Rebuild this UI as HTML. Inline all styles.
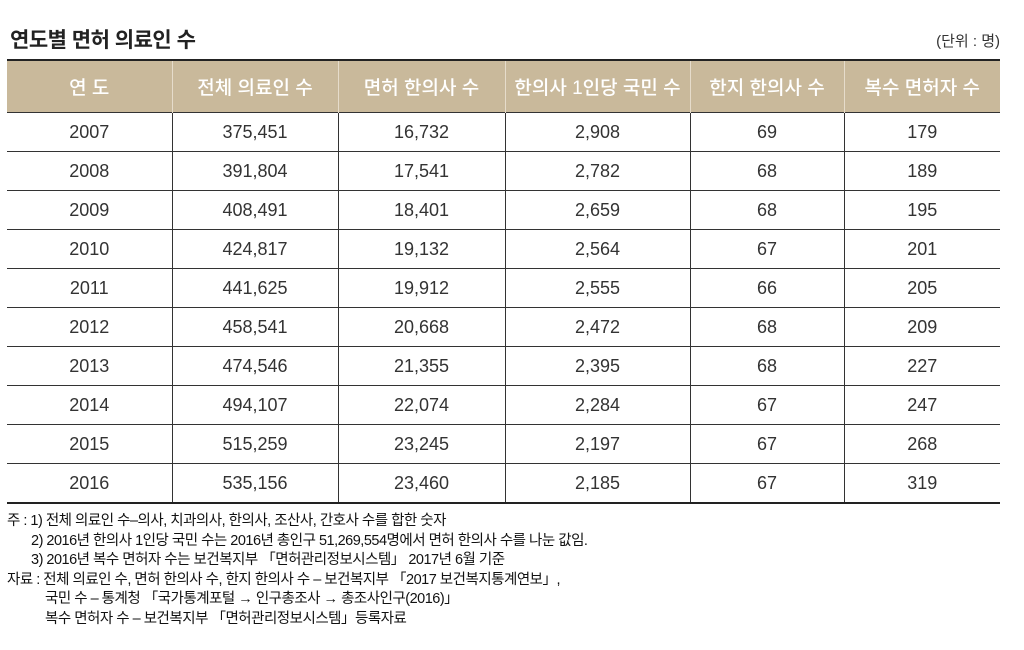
<!DOCTYPE html>
<html><head><meta charset="utf-8"><style>
body{margin:0;width:1024px;height:650px;background:#fff;font-family:"Liberation Sans","Noto Sans CJK KR","NanumGothic",sans-serif;color:#222;position:relative;overflow:hidden}
.title{position:absolute;left:10px;top:24px;font-size:21px;font-weight:bold;letter-spacing:-0.5px}
.unit{position:absolute;right:24px;top:30px;font-size:15px;color:#333}
table{position:absolute;left:7px;top:59px;border-collapse:collapse;table-layout:fixed;width:993px}
th,td{text-align:center;padding:0}
th{background:#c9b99b;color:#fff;font-weight:500;font-size:19px;height:51px;border-left:1px solid #e6dccb}
th:first-child{border-left:none}
tr.h{border-top:2.5px solid #222}
td{height:38px;font-size:18px;color:#333;border-top:1px solid #333;border-left:1px solid #333}
td:first-child{border-left:none}
tr:last-child td{border-bottom:2.5px solid #222}
.notes{position:absolute;left:7px;top:512px;font-size:14.5px;line-height:19.5px;color:#111;letter-spacing:-0.5px}
</style></head><body>
<div class="title">연도별 면허 의료인 수</div>
<div class="unit">(단위 : 명)</div>
<table>
<colgroup><col style="width:165px"><col style="width:166px"><col style="width:167px"><col style="width:185px"><col style="width:154px"><col style="width:156px"></colgroup>
<tr class="h"><th>연 도</th><th>전체 의료인 수</th><th>면허 한의사 수</th><th>한의사 1인당 국민 수</th><th>한지 한의사 수</th><th>복수 면허자 수</th></tr>
<tr><td>2007</td><td>375,451</td><td>16,732</td><td>2,908</td><td>69</td><td>179</td></tr>
<tr><td>2008</td><td>391,804</td><td>17,541</td><td>2,782</td><td>68</td><td>189</td></tr>
<tr><td>2009</td><td>408,491</td><td>18,401</td><td>2,659</td><td>68</td><td>195</td></tr>
<tr><td>2010</td><td>424,817</td><td>19,132</td><td>2,564</td><td>67</td><td>201</td></tr>
<tr><td>2011</td><td>441,625</td><td>19,912</td><td>2,555</td><td>66</td><td>205</td></tr>
<tr><td>2012</td><td>458,541</td><td>20,668</td><td>2,472</td><td>68</td><td>209</td></tr>
<tr><td>2013</td><td>474,546</td><td>21,355</td><td>2,395</td><td>68</td><td>227</td></tr>
<tr><td>2014</td><td>494,107</td><td>22,074</td><td>2,284</td><td>67</td><td>247</td></tr>
<tr><td>2015</td><td>515,259</td><td>23,245</td><td>2,197</td><td>67</td><td>268</td></tr>
<tr><td>2016</td><td>535,156</td><td>23,460</td><td>2,185</td><td>67</td><td>319</td></tr>
</table>
<div class="notes">
주 : 1) 전체 의료인 수–의사, 치과의사, 한의사, 조산사, 간호사 수를 합한 숫자<br>
<span style="padding-left:24px">2) 2016년 한의사 1인당 국민 수는 2016년 총인구 51,269,554명에서 면허 한의사 수를 나눈 값임.</span><br>
<span style="padding-left:24px">3) 2016년 복수 면허자 수는 보건복지부 「면허관리정보시스템」 2017년 6월 기준</span><br>
자료 : 전체 의료인 수, 면허 한의사 수, 한지 한의사 수 – 보건복지부 「2017 보건복지통계연보」,<br>
<span style="padding-left:38px">국민 수 – 통계청 「국가통계포털 → 인구총조사 → 총조사인구(2016)」</span><br>
<span style="padding-left:38px">복수 면허자 수 – 보건복지부 「면허관리정보시스템」등록자료</span>
</div>
</body></html>
